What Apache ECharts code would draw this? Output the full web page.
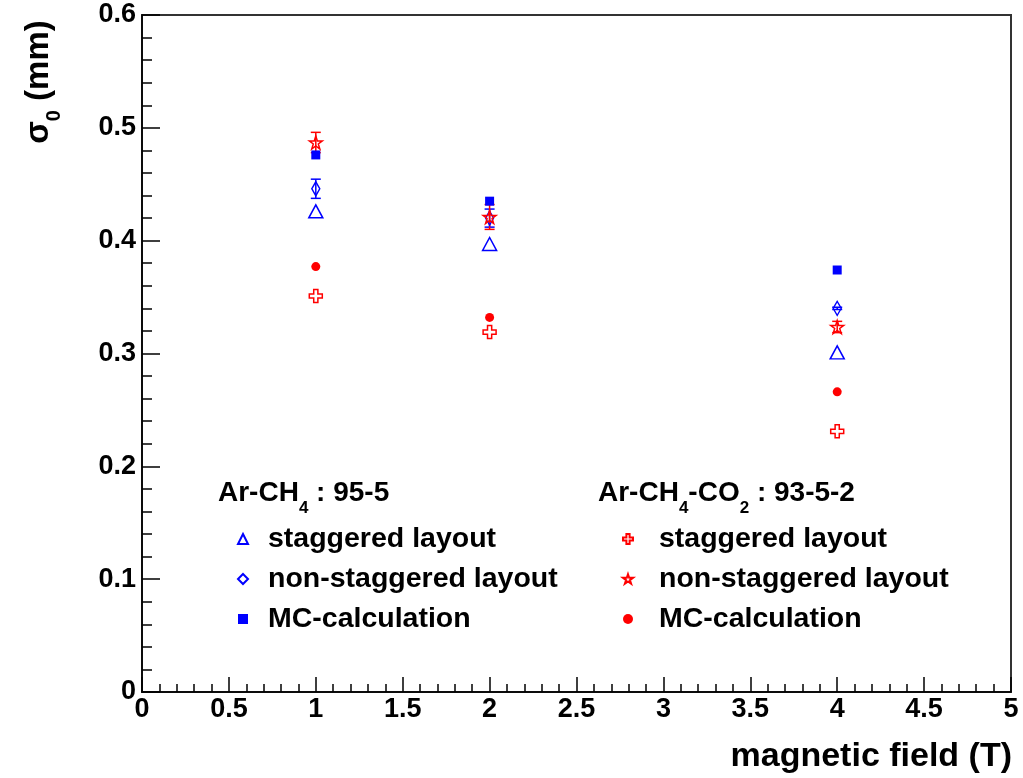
<!DOCTYPE html>
<html>
<head>
<meta charset="utf-8">
<script src="https://cdn.jsdelivr.net/npm/echarts@6/dist/echarts.min.js"></script>
<style>
html,body{margin:0;padding:0;background:#fff;}
#chart{width:1023px;height:778px;}
</style>
</head>
<body>
<div id="chart"></div>
<script>
// ---- data ----
const fields = [1, 2, 4];
const arStaggered = [0.426, 0.397, 0.301];
const arNonStaggered = [0.446, 0.420, 0.340];
const arNonStaggeredErr = [0.0085, 0.008, 0.001];
const arMC = [0.476, 0.435, 0.374];
const coStaggered = [0.351, 0.319, 0.231];
const coNonStaggered = [0.487, 0.421, 0.3235];
const coNonStaggeredErr = [0.009, 0.011, 0.005];
const coMC = [0.377, 0.332, 0.266];
const xTickLabels = ['0','0.5','1','1.5','2','2.5','3','3.5','4','4.5','5'];
const yTickLabels = ['0','0.1','0.2','0.3','0.4','0.5','0.6'];
const legendNames = ['staggered layout', 'non-staggered layout', 'MC-calculation'];

const FONT = '"Liberation Sans", Arial, Helvetica, sans-serif';
const BLUE = '#0000ff';
const RED = '#ff0000';
const STAR = 'path://M50,0 L61.8,35.3 L98.9,35.3 L68.9,57.2 L80.3,92.7 L50,70.8 L19.7,92.7 L31.1,57.2 L1.1,35.3 L38.2,35.3 Z';
const CROSS = 'path://M34,0 L66,0 L66,34 L100,34 L100,66 L66,66 L66,100 L34,100 L34,66 L0,66 L0,34 L34,34 Z';

function pts(vals) { return fields.map((f, i) => [f, vals[i]]); }
function errPts(vals, errs) { return fields.map((f, i) => [f, vals[i], errs[i]]); }

function errSeries(vals, errs, color) {
  return {
    type: 'custom',
    data: errPts(vals, errs),
    z: 2,
    silent: true,
    renderItem: function (params, api) {
      const x = api.value(0), y = api.value(1), e = api.value(2);
      const top = api.coord([x, y + e]);
      const bot = api.coord([x, y - e]);
      const cw = 5;
      const st = { stroke: color, lineWidth: 1.5 };
      return {
        type: 'group',
        children: [
          { type: 'line', shape: { x1: top[0], y1: top[1], x2: bot[0], y2: bot[1] }, style: st },
          { type: 'line', shape: { x1: top[0] - cw, y1: top[1], x2: top[0] + cw, y2: top[1] }, style: st },
          { type: 'line', shape: { x1: bot[0] - cw, y1: bot[1], x2: bot[0] + cw, y2: bot[1] }, style: st }
        ]
      };
    }
  };
}

function scatter(name, vals, symbol, size, color, hollow) {
  return {
    type: 'scatter',
    name: name,
    data: pts(vals),
    symbol: symbol,
    symbolSize: size,
    z: 3,
    itemStyle: hollow
      ? { color: 'rgba(255,255,255,0)', borderColor: color, borderWidth: 1.5, opacity: 1 }
      : { color: color, borderWidth: 0, opacity: 1 }
  };
}

const chart = echarts.init(document.getElementById('chart'), null, { renderer: 'canvas' });

const legendText = { fontFamily: FONT, fontWeight: 'bold', fontSize: 28.5, color: '#000', lineHeight: 30, padding: [0, 0, 0, 16] };

const option = {
  backgroundColor: '#fff',
  animation: false,
  grid: { left: 142, right: 12, top: 15, bottom: 86, show: true, borderColor: '#333', borderWidth: 2, backgroundColor: 'transparent' },
  xAxis: {
    type: 'value', min: 0, max: 5, interval: 0.5,
    axisLine: { show: true, onZero: false, lineStyle: { color: '#000', width: 1.5 } },
    axisTick: { show: true, inside: true, length: 15, lineStyle: { color: '#000', width: 1.5 } },
    minorTick: { show: true, splitNumber: 5, length: 8, lineStyle: { color: '#000', width: 1.5 } },
    splitLine: { show: false },
    axisLabel: {
      margin: 4, fontFamily: FONT, fontWeight: 'bold', fontSize: 27, color: '#000',
      formatter: v => xTickLabels[Math.round(v / 0.5)]
    }
  },
  yAxis: {
    type: 'value', min: 0, max: 0.6, interval: 0.1,
    axisLine: { show: true, onZero: false, lineStyle: { color: '#000', width: 1.5 } },
    axisTick: { show: true, inside: true, length: 18, lineStyle: { color: '#000', width: 1.5 } },
    minorTick: { show: true, splitNumber: 5, length: 10, lineStyle: { color: '#000', width: 1.5 } },
    splitLine: { show: false },
    axisLabel: {
      margin: 6, fontFamily: FONT, fontWeight: 'bold', fontSize: 27, color: '#000',
      formatter: v => yTickLabels[Math.round(v / 0.1)]
    }
  },
  legend: [
    {
      orient: 'vertical', left: 232, top: 519, itemGap: 10, itemWidth: 10, itemHeight: 10,
      selectedMode: false, textStyle: Object.assign({}, legendText, { padding: [0, 0, 0, 15] }),
      data: ['a|' + legendNames[0], 'a|' + legendNames[1], 'a|' + legendNames[2]],
      formatter: n => n.slice(2)
    },
    {
      orient: 'vertical', left: 617, top: 519, itemGap: 10, itemWidth: 10, itemHeight: 10,
      selectedMode: false, textStyle: Object.assign({}, legendText, { padding: [0, 0, 0, 21] }),
      data: ['b|' + legendNames[0], 'b|' + legendNames[1], 'b|' + legendNames[2]],
      formatter: n => n.slice(2)
    }
  ],
  graphic: [
    {
      type: 'text', x: 218, y: 479,
      style: {
        text: '{n|Ar-CH}{s|4}{n| : 95-5}',
        rich: {
          n: { fontFamily: FONT, fontWeight: 'bold', fontSize: 28, lineHeight: 30, verticalAlign: 'top', fill: '#000' },
          s: { fontFamily: FONT, fontWeight: 'bold', fontSize: 17, lineHeight: 20, padding: [21, 0, 0, 0], verticalAlign: 'top', fill: '#000' }
        }
      }
    },
    {
      type: 'text', x: 598, y: 479,
      style: {
        text: '{n|Ar-CH}{s|4}{n|-CO}{s|2}{n| : 93-5-2}',
        rich: {
          n: { fontFamily: FONT, fontWeight: 'bold', fontSize: 28, lineHeight: 30, verticalAlign: 'top', fill: '#000' },
          s: { fontFamily: FONT, fontWeight: 'bold', fontSize: 17, lineHeight: 20, padding: [21, 0, 0, 0], verticalAlign: 'top', fill: '#000' }
        }
      }
    },
    {
      type: 'text', x: 1012, y: 740,
      style: {
        text: 'magnetic field (T)', fontFamily: FONT, fontWeight: 'bold', fontSize: 34,
        align: 'right', verticalAlign: 'top', fill: '#000'
      }
    },
    {
      type: 'text', x: 40, y: 82, rotation: Math.PI / 2,
      style: {
        text: '{n|σ}{s|0}{n| (mm)}',
        align: 'center', verticalAlign: 'middle',
        rich: {
          n: { fontFamily: FONT, fontWeight: 'bold', fontSize: 33, lineHeight: 36, verticalAlign: 'top', fill: '#000' },
          s: { fontFamily: FONT, fontWeight: 'bold', fontSize: 20, lineHeight: 22, padding: [22, 0, 0, 0], verticalAlign: 'top', fill: '#000' }
        }
      }
    }
  ],
  series: [
    errSeries(arNonStaggered, arNonStaggeredErr, BLUE),
    scatter('a|' + legendNames[0], arStaggered, 'triangle', [14, 13], BLUE, true),
    scatter('a|' + legendNames[1], arNonStaggered, 'diamond', [8, 14], BLUE, true),
    scatter('a|' + legendNames[2], arMC, 'rect', 9, BLUE, false),
    errSeries(coNonStaggered, coNonStaggeredErr, RED),
    scatter('b|' + legendNames[0], coStaggered, CROSS, 13, RED, true),
    scatter('b|' + legendNames[1], coNonStaggered, STAR, 13, RED, true),
    scatter('b|' + legendNames[2], coMC, 'circle', 9, RED, false)
  ]
};
chart.setOption(option);
</script>
</body>
</html>
